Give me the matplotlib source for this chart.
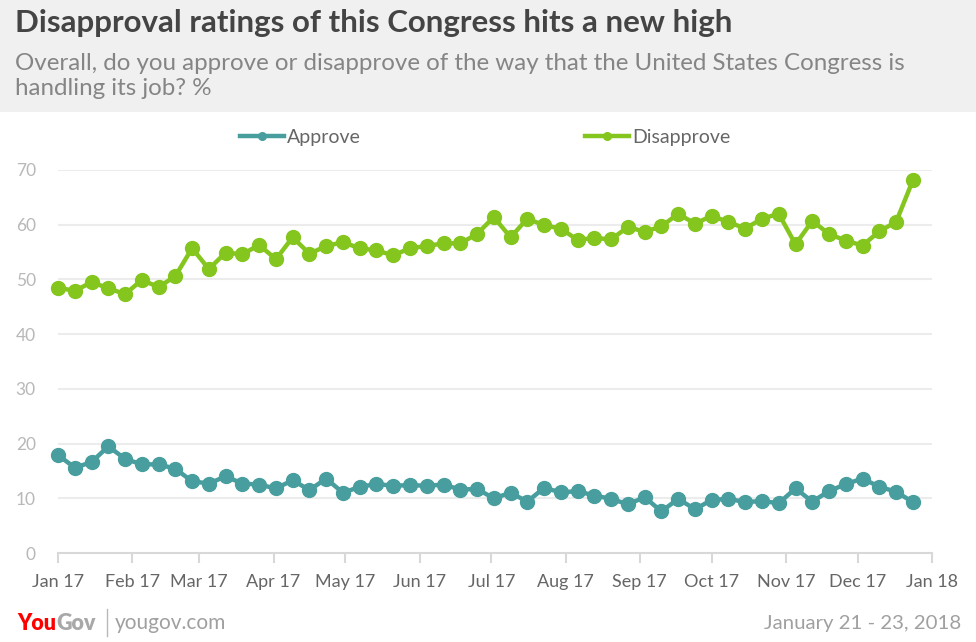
import matplotlib
matplotlib.use("Agg")
import matplotlib.pyplot as plt
import matplotlib.dates as mdates
import pandas as pd

plt.rcParams['font.family'] = ['Lato', 'DejaVu Sans']

# weekly polls, 2017
dates = pd.date_range('2017-01-01', periods=52, freq='7D')

approve = [17.9, 15.6, 16.6, 19.5, 17.2, 16.2, 16.2, 15.4, 13.1, 12.7, 14.0, 12.7, 12.5,
           11.8, 13.3, 11.5, 13.6, 11.0, 12.1, 12.6, 12.3, 12.4, 12.3, 12.5, 11.6, 11.7,
           10.0, 11.0, 9.4, 11.9, 11.1, 11.3, 10.5, 9.9, 8.9, 10.2, 7.6, 9.9, 8.0,
           9.7, 9.9, 9.3, 9.5, 9.1, 11.8, 9.4, 11.3, 12.6, 13.6, 12.1, 11.2, 9.3]

disapprove = [48.5, 47.9, 49.5, 48.4, 47.3, 49.9, 48.6, 50.6, 55.7, 51.9, 54.9, 54.6, 56.3,
              53.7, 57.7, 54.7, 56.1, 56.8, 55.7, 55.3, 54.4, 55.7, 56.1, 56.6, 56.6, 58.3,
              61.4, 57.7, 61.1, 59.9, 59.3, 57.2, 57.6, 57.3, 59.6, 58.7, 59.7, 62.0, 60.2,
              61.6, 60.5, 59.3, 61.1, 62.0, 56.4, 60.7, 58.3, 57.1, 56.2, 58.8, 60.5, 68.1]

title = 'Disapproval ratings of this Congress hits a new high'
subtitle = ('Overall, do you approve or disapprove of the way that the United States Congress is\n'
            'handling its job? %')

teal = '#489e9e'
green = '#84c61e'

fig = plt.figure(figsize=(9.76, 6.42), dpi=100)
W, H = 976, 642

# grey header band
fig.patches.append(plt.Rectangle((0, 1 - 112 / H), 1, 112 / H, transform=fig.transFigure,
                                 facecolor='#f0f0f0', edgecolor='none', zorder=0))
fig.text(15 / W, 1 - 23 / H, title, fontsize=22.5, fontweight='bold', color='#444444', va='center')
fig.text(15 / W, 1 - 76 / H, subtitle, fontsize=17.4, color='#858585', va='center',
         linespacing=1.22)

ax = fig.add_axes([58 / W, 89 / H, 874 / W, 383 / H])
ax.plot(dates, approve, color=teal, lw=3.2, marker='o', ms=10, label='Approve', clip_on=False)
ax.plot(dates, disapprove, color=green, lw=3.2, marker='o', ms=10, label='Disapprove', clip_on=False)

ax.set_ylim(0, 70)
ax.set_xlim(pd.Timestamp('2017-01-01'), pd.Timestamp('2018-01-01'))
ax.set_yticks(range(0, 71, 10))
ax.xaxis.set_major_locator(mdates.MonthLocator())
ax.xaxis.set_major_formatter(mdates.DateFormatter('%b %y'))

ax.grid(axis='y', color='#ececec', lw=1.5)
ax.set_axisbelow(True)
for s in ['top', 'right', 'left']:
    ax.spines[s].set_visible(False)
ax.spines['bottom'].set_color('#d8d8d8')
ax.spines['bottom'].set_linewidth(1.5)
ax.tick_params(axis='y', length=0, labelsize=12.5, labelcolor='#b8b8b8', pad=16)
ax.tick_params(axis='x', length=7, width=1.5, color='#d8d8d8', labelsize=13,
               labelcolor='#666666', pad=8)

leg = fig.legend(loc='center left', bbox_to_anchor=(222 / W, 1 - 137 / H), ncol=2,
                 frameon=False, fontsize=14, handlelength=2.3, handletextpad=0.15,
                 columnspacing=11.5, markerscale=0.55)
for t in leg.get_texts():
    t.set_color('#666666')

# footer
fig.canvas.draw()
r = fig.canvas.get_renderer()
you = fig.text(17 / W, 1 - 623 / H, 'You', fontsize=15.5, fontweight='heavy', color='#ff0000',
               va='center')
bb = you.get_window_extent(renderer=r)
fig.text(bb.x1 / W, 1 - 623 / H, 'Gov', fontsize=15.5, fontweight='heavy', color='#a8a8a8',
         va='center')
fig.add_artist(plt.Line2D([107 / W, 107 / W], [1 - 636 / H, 1 - 609 / H], color='#b8b8b8', lw=1))
fig.text(115 / W, 1 - 623 / H, 'yougov.com', fontsize=15, color='#a0a0a0', va='center')
fig.text(961 / W, 1 - 623 / H, 'January 21 - 23, 2018', fontsize=14.7, color='#a0a0a0',
         va='center', ha='right')

fig.savefig('out.png', dpi=100)
